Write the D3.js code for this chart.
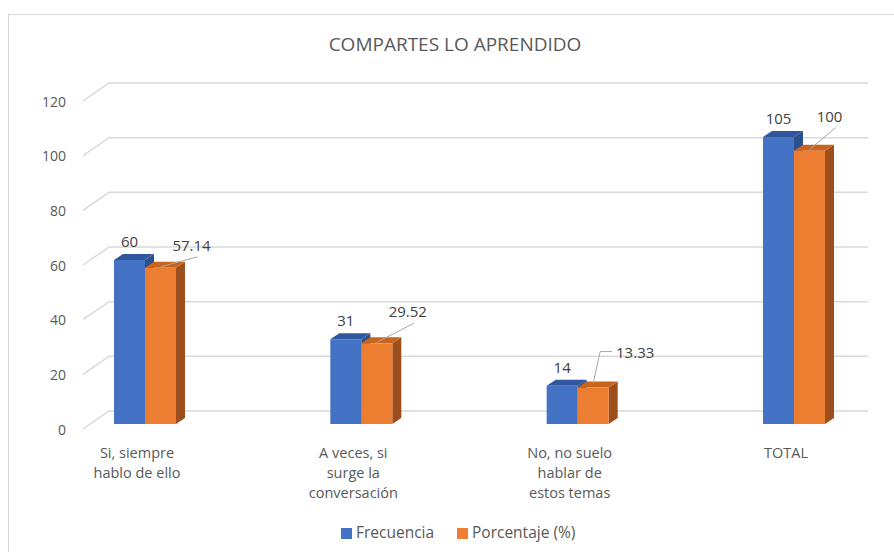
<!DOCTYPE html>
<html>
<head>
<meta charset="utf-8">
<script src="https://cdn.jsdelivr.net/npm/d3@7"></script>
<style>
  body { margin: 0; background: #fff; }
  svg { display: block; font-family: "Open Sans", "Noto Sans", sans-serif; }
</style>
</head>
<body>
<svg id="chart" width="894" height="552"></svg>
<script>
// data
var categories = [
    ["Si, siempre", "hablo de ello"],
    ["A veces, si", "surge la", "conversación"],
    ["No, no suelo", "hablar de", "estos temas"],
    ["TOTAL"]
];
var frecuencia = [60, 31, 14, 105];
var porcentaje = [57.14, 29.52, 13.33, 100];
var porcentajeText = ["57.14", "29.52", "13.33", "100"];
var seriesNames = ["Frecuencia", "Porcentaje (%)"];
var yTicks = [0, 20, 40, 60, 80, 100, 120];

// where the leader-lined labels of the orange bars sit (offset from bar top)
var orangeLabelOffsets = [[31, -21], [31, -30], [42, -34], [20, -33]];

var svg = d3.select("#chart");

// chart border
svg.append("rect")
    .attr("x", 8.5).attr("y", 14.5)
    .attr("width", 900).attr("height", 560)
    .attr("fill", "none").attr("stroke", "#d9d9d9");

svg.append("text")
    .attr("x", 455).attr("y", 51)
    .attr("text-anchor", "middle")
    .attr("font-size", 19)
    .attr("fill", "#595959")
    .text("COMPARTES LO APRENDIDO");

// scales
var y = d3.scaleLinear().domain([0, 120]).range([429, 101]);
var x = d3.scalePoint().domain(d3.range(categories.length)).range([145, 794]);
var barW = 31;
var dx = 9, dy = -6;      // depth of the 3d bars
var barLift = 5;          // bars stand a bit behind the front floor edge
var wallDx = 26, wallDy = -18;
var gridLeft = 83, gridRight = 868;

// gridlines (floor diagonal + back wall line)
var grid = svg.append("g");
yTicks.forEach(function (t) {
    var yf = y(t);
    grid.append("path")
        .attr("d", "M" + gridLeft + "," + yf + "L" + (gridLeft + wallDx) + "," + (yf + wallDy) +
            "H" + gridRight)
        .attr("fill", "none")
        .attr("stroke", "#d9d9d9")
        .attr("stroke-width", 1.5);
    grid.append("text")
        .attr("x", 66).attr("y", yf + 2)
        .attr("text-anchor", "end")
        .attr("dominant-baseline", "middle")
        .attr("font-size", 14)
        .attr("fill", "#595959")
        .text(t);
});

function yb(v) { return y(v) - barLift; }

var series = [
    { values: frecuencia, front: "#4472c4", top: "#30579c", side: "#2c4f8e", off: -barW },
    { values: porcentaje, front: "#ed7d31", top: "#c9641f", side: "#9c4f1d", off: 0 }
];

var bars = svg.append("g");
series.forEach(function (s) {
    s.values.forEach(function (v, i) {
        var x0 = x(i) + s.off, x1 = x0 + barW;
        var yt = yb(v), y0 = yb(0);
        // side face
        bars.append("path")
            .attr("d", "M" + x1 + "," + yt + "L" + (x1 + dx) + "," + (yt + dy) +
                "L" + (x1 + dx) + "," + (y0 + dy) + "L" + x1 + "," + y0 + "Z")
            .attr("fill", s.side);
        // top face
        bars.append("path")
            .attr("d", "M" + x0 + "," + yt + "L" + (x0 + dx) + "," + (yt + dy) +
                "L" + (x1 + dx) + "," + (yt + dy) + "L" + x1 + "," + yt + "Z")
            .attr("fill", s.top);
        // front face
        bars.append("rect")
            .attr("x", x0).attr("y", yt)
            .attr("width", barW).attr("height", y0 - yt)
            .attr("fill", s.front);
    });
});

// data labels
var labels = svg.append("g")
    .attr("font-size", 15)
    .attr("fill", "#404040")
    .attr("text-anchor", "middle")
    .attr("dominant-baseline", "middle");

frecuencia.forEach(function (v, i) {
    labels.append("text")
        .attr("x", x(i) - barW / 2)
        .attr("y", yb(v) - 17)
        .text(v);
});

porcentaje.forEach(function (v, i) {
    var cx = x(i) + barW / 2, ct = yb(v);
    var o = orangeLabelOffsets[i];
    var lx = cx + o[0], ly = ct + o[1];
    var path;
    if (i === 2) {
        path = "M" + cx + "," + (ct - 4) + "L" + (cx + 7) + "," + (ly - 2) + "H" + (lx - 23);
    } else {
        path = "M" + cx + "," + (ct - 1) + "L" + (lx + 6) + "," + (ly + 10);
    }
    svg.append("path")
        .attr("d", path)
        .attr("fill", "none")
        .attr("stroke", "#a6a6a6")
        .attr("stroke-width", 1);
    labels.append("text")
        .attr("x", lx).attr("y", ly)
        .text(porcentajeText[i]);
});

// category labels
var cat = svg.append("g")
    .attr("font-size", 14.5)
    .attr("fill", "#595959")
    .attr("text-anchor", "middle");
categories.forEach(function (lines, i) {
    var t = cat.append("text").attr("x", x(i) - 8).attr("y", 458);
    lines.forEach(function (l, k) {
        t.append("tspan")
            .attr("x", x(i) - 8)
            .attr("dy", k === 0 ? 0 : 20)
            .text(l);
    });
});

// legend
var legend = svg.append("g").attr("font-size", 15.5).attr("fill", "#595959");
var legX = [341, 457];
seriesNames.forEach(function (n, i) {
    legend.append("rect")
        .attr("x", legX[i]).attr("y", 528)
        .attr("width", 11).attr("height", 11)
        .attr("fill", series[i].front);
    legend.append("text")
        .attr("x", legX[i] + 15).attr("y", 534)
        .attr("dominant-baseline", "middle")
        .text(n);
});
</script>
</body>
</html>
